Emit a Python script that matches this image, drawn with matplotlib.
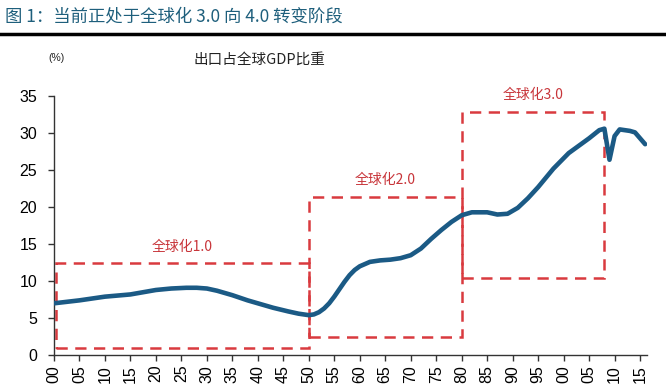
import matplotlib
matplotlib.use("Agg")
import matplotlib.pyplot as plt
from matplotlib.patches import Rectangle

# ---- data ----
years = [1900, 1905, 1910, 1915, 1920, 1923, 1926, 1928, 1930, 1932, 1935, 1938,
         1940, 1943, 1946, 1948, 1950, 1951, 1952, 1953, 1954, 1955, 1956, 1957,
         1958, 1959, 1960, 1961, 1962, 1964, 1966, 1968, 1970, 1972, 1974, 1976,
         1978, 1980, 1982, 1985, 1987, 1989, 1991, 1993, 1995, 1998, 2001, 2003,
         2005, 2007, 2008, 2009, 2010, 2011, 2012, 2013, 2014, 2015, 2016]
export_share = [7.0, 7.4, 7.9, 8.2, 8.8, 9.0, 9.1, 9.1, 9.0, 8.7, 8.1, 7.4,
                7.0, 6.4, 5.9, 5.6, 5.4, 5.5, 5.8, 6.3, 7.0, 7.9, 8.9, 9.9,
                10.8, 11.5, 12.0, 12.3, 12.6, 12.8, 12.9, 13.1, 13.5, 14.4, 15.7, 16.9,
                18.0, 18.9, 19.3, 19.3, 19.0, 19.1, 19.9, 21.2, 22.7, 25.2, 27.3, 28.3,
                29.3, 30.4, 30.6, 26.4, 29.6, 30.5, 30.4, 30.3, 30.1, 29.3, 28.5]

stage_labels = ["全球化1.0", "全球化2.0", "全球化3.0"]
stage_start = [1900.5, 1950, 1980]
stage_end = [1950, 1980, 2008]
stage_low = [0.9, 2.4, 10.4]
stage_high = [12.4, 21.4, 32.9]

xtick_years = list(range(1900, 2016, 5))
xtick_labels = [f"{y % 100:02d}" for y in xtick_years]
ytick_values = list(range(0, 36, 5))

fig_title = "图 1：当前正处于全球化 3.0 向 4.0 转变阶段"
chart_title = "出口占全球GDP比重"
unit_label = "(%)"

# ---- style ----
CJK = ["Noto Sans CJK SC", "DejaVu Sans"]
NUM = ["Liberation Sans Narrow", "Liberation Sans", "DejaVu Sans"]
plt.rcParams["font.family"] = CJK

line_color = "#1b5a85"
box_color = "#d93a3f"
text_red = "#c8353a"

fig = plt.figure(figsize=(6.66, 3.86), dpi=100)
ax = fig.add_axes([0.081, 0.080, 0.890, 0.671])

ax.plot(years, export_share, color=line_color, lw=3.3,
        solid_joinstyle="round", solid_capstyle="round", zorder=3)

for lab, x0, x1, y0, y1 in zip(stage_labels, stage_start, stage_end, stage_low, stage_high):
    ax.add_patch(Rectangle((x0, y0), x1 - x0, y1 - y0, fill=False,
                           edgecolor=box_color, lw=1.8, linestyle=(0, (4.5, 3)),
                           zorder=2))
    ax.text((x0 + x1) / 2, y1 + 1.3, lab, color=text_red, fontsize=10,
            ha="center", va="bottom", family=CJK)

ax.set_xlim(1900, 2016.3)
ax.set_ylim(0, 35)
ax.set_xticks(xtick_years)
ax.set_xticklabels(xtick_labels, rotation=90, family=NUM, fontsize=11.5)
ax.set_yticks(ytick_values)
ax.set_yticklabels([str(v) for v in ytick_values], family=NUM, fontsize=11.5)
ax.tick_params(axis="both", direction="out", length=4, width=1, color="#333333",
               pad=3)
ax.tick_params(axis="y", pad=8)
for s in ["top", "right"]:
    ax.spines[s].set_visible(False)
for s in ["left", "bottom"]:
    ax.spines[s].set_color("#333333")
    ax.spines[s].set_linewidth(1.0)

# titles
fig.text(0.008, 0.958, fig_title, color="#1e5f7c", fontsize=12.5,
         ha="left", va="center", family=CJK)
fig.add_artist(plt.Line2D([0, 1], [0.912, 0.912], color="black", lw=2.5,
                          transform=fig.transFigure))
fig.text(0.389, 0.845, chart_title, color="#222222", fontsize=10.5,
         ha="center", va="center", family=CJK)
fig.text(0.085, 0.850, unit_label, color="#222222", fontsize=7.5,
         ha="center", va="center", family=NUM)

fig.savefig("out.png", dpi=100)
